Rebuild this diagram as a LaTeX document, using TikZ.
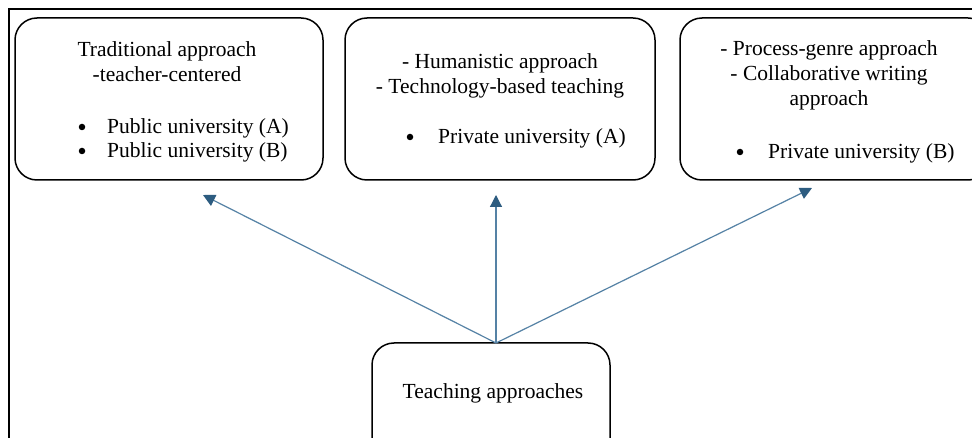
\documentclass[tikz,border=0pt]{standalone}
\usepackage{fontspec}
\setmainfont{Liberation Serif}
\usetikzlibrary{arrows.meta}
\definecolor{arrline}{RGB}{85,130,165}
\definecolor{arrhead}{RGB}{45,92,128}
\begin{document}
\begin{tikzpicture}[x=1pt,y=-1pt,
  box/.style={draw=black,line width=1.5pt,rounded corners=22pt,inner sep=0pt,minimum height=162pt},
  txt/.style={font=\fontsize{21.5}{25}\selectfont,align=center,inner sep=0pt},
  bul/.style={circle,fill=black,inner sep=0pt,minimum size=6.5pt},
  conn/.style={draw=arrline,line width=1.2pt,-{Triangle[length=12pt,width=12pt,color=arrhead]}},
  frameline/.style={draw=black,line width=1.4pt}]
\useasboundingbox (0,0) rectangle (972,438);
\clip (0,0) rectangle (972,438);
\fill[white] (0,0) rectangle (972,438);
% frame
\coordinate (fa) at (972,9);
\coordinate (fb) at (9,9);
\coordinate (fc) at (9,438);
\draw[frameline] (fa) -- (fb) -- (fc);
% boxes
\node[box,minimum width=308pt] (b1) at (169,99) {};
\node[box,minimum width=310pt] (b2) at (500,99) {};
\node[box,minimum width=310pt] (b3) at (835,99) {};
\node[box,minimum width=238pt,minimum height=160pt] (b4) at (491,423) {};
% texts box 1
\node[txt] (t1a) at (167,62) {Traditional approach\\-teacher-centered};
\node[bul] (t1b) at (82,127) {};
\node[txt,anchor=west] (t1c) at (107,128) {Public university (A)};
\node[bul] (t1d) at (82,151) {};
\node[txt,anchor=west] (t1e) at (107,152) {Public university (B)};
% texts box 2
\node[txt] (t2a) at (500,76) {- Humanistic approach\\- Technology-based teaching};
\node[bul] (t2b) at (410,137) {};
\node[txt,anchor=west] (t2c) at (438,138) {Private university (A)};
% texts box 3
\node[txt] (t3a) at (829,75) {- Process-genre approach\\- Collaborative writing\\approach};
\node[bul] (t3b) at (740,152) {};
\node[txt,anchor=west] (t3c) at (768,153) {Private university (B)};
% bottom
\node[txt] (t4) at (493,393) {Teaching approaches};
% connectors
\coordinate (src) at (496,343);
\coordinate (e1) at (203,195);
\coordinate (e2) at (496,195);
\coordinate (e3) at (812,188);
\draw[conn] (src) -- (e1);
\draw[conn] (src) -- (e2);
\draw[conn] (src) -- (e3);
\end{tikzpicture}
\end{document}
